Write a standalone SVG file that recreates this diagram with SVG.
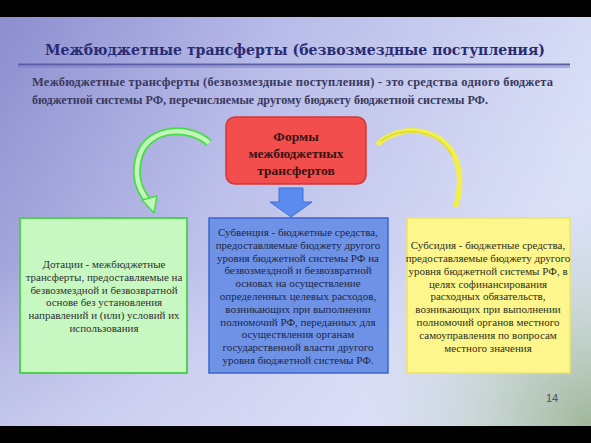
<svg xmlns="http://www.w3.org/2000/svg" width="591" height="443" viewBox="0 0 591 443">
<defs>
<linearGradient id="bg" x1="0" y1="0" x2="1" y2="0.25">
<stop offset="0" stop-color="#8a8cce"/>
<stop offset="0.45" stop-color="#b6bae8"/>
<stop offset="1" stop-color="#d8def6"/>
</linearGradient>
<linearGradient id="bgv" x1="0" y1="0" x2="0" y2="1">
<stop offset="0" stop-color="#ffffff" stop-opacity="0"/>
<stop offset="0.6" stop-color="#ffffff" stop-opacity="0.1"/>
<stop offset="1" stop-color="#e4e8fa" stop-opacity="0.55"/>
</linearGradient>
<radialGradient id="gr" cx="591" cy="426" r="230" gradientUnits="userSpaceOnUse">
<stop offset="0" stop-color="#9cb494" stop-opacity="0.95"/>
<stop offset="0.5" stop-color="#b4c8b4" stop-opacity="0.5"/>
<stop offset="1" stop-color="#c8d4e0" stop-opacity="0"/>
</radialGradient>
<style>
.ttl{font-family:"DejaVu Serif","Liberation Serif",serif;font-weight:bold;font-size:14.5px;fill:#2a2c72}
.par{font-family:"Liberation Serif",serif;font-weight:bold;font-size:12.5px;fill:#3a3a5c}
.hd{font-family:"Liberation Serif",serif;font-weight:bold;font-size:13.5px;fill:#3a1212;text-anchor:middle}
.bx{font-family:"Liberation Serif",serif;font-size:11px;text-anchor:middle}
.pg{font-family:"Liberation Sans",sans-serif;font-size:11px;fill:#505060}
</style>
</defs>
<rect x="0" y="0" width="591" height="443" fill="url(#bg)"/>
<rect x="0" y="0" width="591" height="443" fill="url(#bgv)"/>
<rect x="0" y="0" width="591" height="443" fill="url(#gr)"/>
<rect x="0" y="0" width="591" height="17" fill="#000"/>
<rect x="0" y="426" width="591" height="17" fill="#000"/>

<g id="title">
<text class="ttl" x="295" y="55" text-anchor="middle" textLength="500" lengthAdjust="spacingAndGlyphs">Межбюджетные трансферты (безвозмездные поступления)</text>
<rect x="18" y="63.5" width="552" height="2" fill="#5a5ea8"/>
<rect x="18" y="66.5" width="552" height="1" fill="#7a7ec0"/>
</g>
<g id="definition">
<text class="par" x="32" y="86" textLength="521" lengthAdjust="spacing">Межбюджетные трансферты (безвозмездные поступления) - это средства одного бюджета</text>
<text class="par" x="32" y="104" textLength="456" lengthAdjust="spacingAndGlyphs">бюджетной системы РФ, перечисляемые другому бюджету бюджетной системы РФ.</text>
</g>

<g id="connectors">
<path d="M209,143 C190,125 150,127 140,154 C133,174 139,190 148,201" fill="none" stroke="#48dc48" stroke-width="8" stroke-linecap="butt"/>
<path d="M209,143 C190,125 150,127 140,154 C133,174 139,190 148,201" fill="none" stroke="#c4f6bc" stroke-width="4.5" stroke-linecap="butt"/>
<polygon points="142,200 157,196 154,213" fill="#c4f6bc" stroke="#48dc48" stroke-width="1.5" stroke-linejoin="round"/>
<path d="M379,143 C400,124 440,126 455,157 C462,175 460,192 456,205" fill="none" stroke="#f2ee4a" stroke-width="5.5" stroke-linecap="round"/>
<path d="M381,141 C401,126 438,128 452,156" fill="none" stroke="#d2cc3a" stroke-width="1.5" stroke-linecap="round" opacity="0.7"/>
<polygon points="279,188 303,188 303,202 312,202 291,217 270,202 279,202" fill="#5a8cf0" stroke="#3f6fd6" stroke-width="1"/>
</g>

<g id="forms">
<rect x="226" y="117" width="140" height="67" rx="9" fill="#f24e4e" stroke="#d83434" stroke-width="1.5"/>
<text class="hd" x="296" y="141">Формы</text>
<text class="hd" x="296" y="158">межбюджетных</text>
<text class="hd" x="296" y="175">трансфертов</text>
</g>

<g id="dotacii">
<rect x="20" y="218" width="167" height="155" fill="#c8f8c2" stroke="#4ed24e" stroke-width="2"/>
<g class="bx" fill="#303030">
<text x="104" y="268">Дотации - межбюджетные</text>
<text x="104" y="281">трансферты, предоставляемые на</text>
<text x="104" y="294">безвозмездной и безвозвратной</text>
<text x="104" y="306">основе без установления</text>
<text x="104" y="319">направлений и (или) условий их</text>
<text x="104" y="332">использования</text>
</g>
</g>

<g id="subvencii">
<rect x="209" y="218" width="179" height="155" fill="#6e92e6" stroke="#3c66cc" stroke-width="1.5"/>
<g class="bx" fill="#1c2848">
<text x="298" y="236">Субвенция - бюджетные средства,</text>
<text x="298" y="249">предоставляемые бюджету другого</text>
<text x="298" y="262">уровня бюджетной системы РФ на</text>
<text x="298" y="274">безвозмездной и безвозвратной</text>
<text x="298" y="287">основах на осуществление</text>
<text x="298" y="300">определенных целевых расходов,</text>
<text x="298" y="313">возникающих при выполнении</text>
<text x="298" y="326">полномочий РФ, переданных для</text>
<text x="298" y="338">осуществления органам</text>
<text x="298" y="351">государственной власти другого</text>
<text x="298" y="364">уровня бюджетной системы РФ.</text>
</g>
</g>

<g id="subsidii">
<rect x="407" y="218" width="163" height="155" fill="#fcf68c" stroke="#ece46a" stroke-width="1.5"/>
<g class="bx" fill="#303020">
<text x="488" y="249">Субсидия - бюджетные средства,</text>
<text x="488" y="262">предоставляемые бюджету другого</text>
<text x="488" y="275">уровня бюджетной системы РФ, в</text>
<text x="488" y="288">целях софинансирования</text>
<text x="488" y="300">расходных обязательств,</text>
<text x="488" y="313">возникающих при выполнении</text>
<text x="488" y="326">полномочий органов местного</text>
<text x="488" y="339">самоуправления по вопросам</text>
<text x="488" y="352">местного значения</text>
</g>
</g>

<text class="pg" x="546" y="402">14</text>
</svg>
